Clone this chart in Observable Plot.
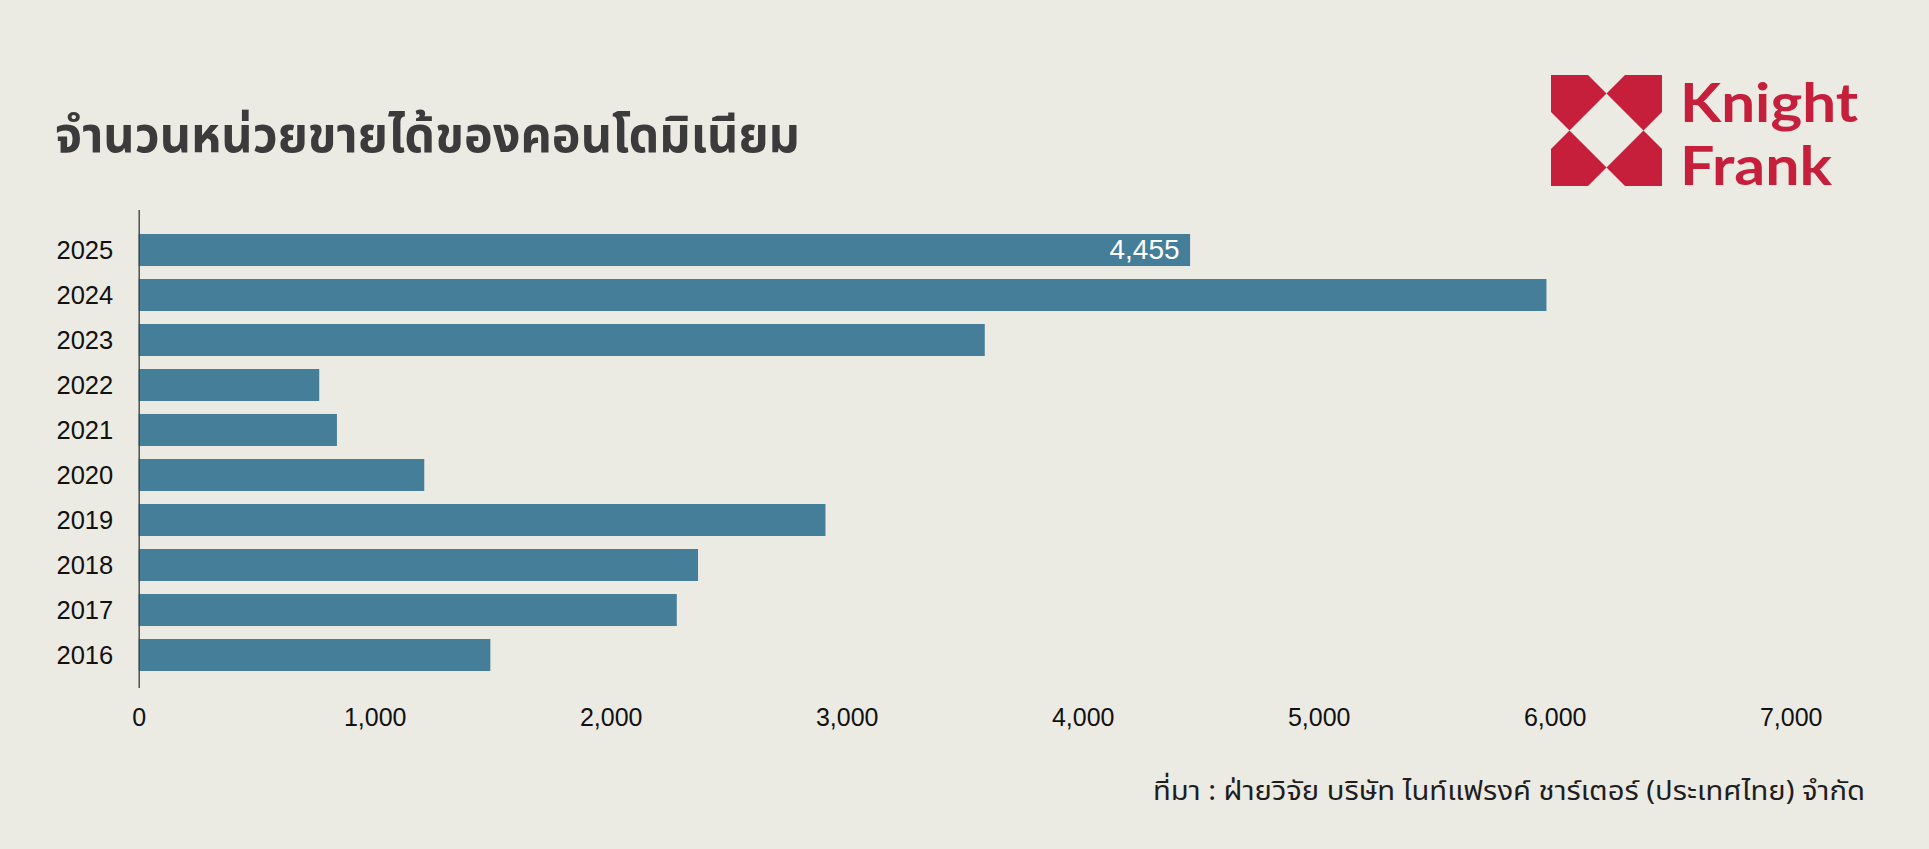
<!DOCTYPE html>
<html><head><meta charset="utf-8">
<script src="https://cdn.jsdelivr.net/npm/d3@7"></script>
<script src="https://cdn.jsdelivr.net/npm/@observablehq/plot@0.6"></script>
<style>
html,body{margin:0;padding:0;background:#ebeae3;}
#wrap{position:relative;width:1929px;height:849px;overflow:hidden;background:#ebeae3;}
#chart{position:absolute;left:0;top:0;}
#deco{position:absolute;left:0;top:0;pointer-events:none;}
</style></head><body>
<div id="wrap"><div id="chart"></div>
<svg id="deco" width="1929" height="849" xmlns="http://www.w3.org/2000/svg"></svg></div>
<script>
// ---- data ----
const years = ["2016","2017","2018","2019","2020","2021","2022","2023","2024","2025"];
const units = [1490, 2280, 2370, 2910, 1210, 840, 765, 3585, 5965, 4455];
const xTicks = [0, 1000, 2000, 3000, 4000, 5000, 6000, 7000];
const labelledYears = ["2025"];
const titleText = "จำนวนหน่วยขายได้ของคอนโดมิเนียม";
const captionText = "ที่มา : ฝ่ายวิจัย บริษัท ไนท์แฟรงค์ ชาร์เตอร์ (ประเทศไทย) จำกัด";
const logoLines = ["Knight", "Frank"];

const table = years.map((y, i) => ({year: y, value: units[i]}));
const yearOrder = years.slice().reverse();
const fmt = d3.format(",");
const BAR = "#457e98";
const thaiFont = "'Noto Sans Thai','Noto Sans Thai UI','Loma','Garuda','Tlwg Typo','Norasi','Noto Sans',sans-serif";

const chart = Plot.plot({
  width: 1929,
  height: 849,
  marginTop: 210,
  marginBottom: 161,
  marginLeft: 138.7,
  marginRight: 1929 - 1790.7,
  style: {background: "transparent", fontFamily: "'Liberation Sans', Arial, sans-serif", fontSize: "25px", color: "#111"},
  x: {domain: [0, 7000], ticks: xTicks, tickFormat: fmt, label: null},
  y: {domain: yearOrder, paddingInner: 0.285, paddingOuter: 0.4325, align: 0.58, label: null},
  marks: [
    Plot.barX(table, {x: "value", y: "year", fill: BAR}),
    Plot.ruleX([0], {stroke: "#444", strokeWidth: 1.4}),
    Plot.axisX({ticks: xTicks, tickFormat: fmt, tickSize: 0, tickPadding: 20, fontSize: 25, fill: "#111", label: null}),
    Plot.axisY({tickSize: 0, tickPadding: 26, fontSize: 25.5, fill: "#111", label: null}),
    Plot.text(table.filter(d => labelledYears.includes(d.year)), {
      x: "value", y: "year", text: d => fmt(d.value), textAnchor: "end", dx: -11,
      fill: "white", fontSize: 28
    })
  ]
});
document.getElementById("chart").appendChild(chart);

// ---- decorations: title, caption, logo ----
const deco = d3.select("#deco");
deco.append("text").attr("x", 55).attr("y", 152)
  .attr("font-family", thaiFont).attr("font-weight", 700).attr("font-size", 50)
  .attr("fill", "#3b3b3b").attr("textLength", 745).attr("lengthAdjust", "spacingAndGlyphs")
  .text(titleText);
deco.append("text").attr("x", 1153).attr("y", 800)
  .attr("font-family", thaiFont).attr("font-size", 27)
  .attr("fill", "#1e1e1e").attr("textLength", 712).attr("lengthAdjust", "spacingAndGlyphs")
  .text(captionText);

const RED = "#c51f3c";
const S = 111, ox = 1551, oy = 75;
const a = S / 3, m = S / 2, h = S / 6;
const tl = [[0,0],[a,0],[m,h],[h,m],[0,a]];
const pieces = [
  tl,
  tl.map(([x,y]) => [S - x, y]),
  tl.map(([x,y]) => [x, S - y]),
  tl.map(([x,y]) => [S - x, S - y])
];
const g = deco.append("g").attr("transform", `translate(${ox},${oy})`);
pieces.forEach(p => g.append("polygon").attr("points", p.map(q => q.join(",")).join(" ")).attr("fill", RED));
deco.append("text").attr("x", 1680).attr("y", 121.7).attr("font-family", "Lato, 'Liberation Sans', sans-serif")
  .attr("font-weight", 700).attr("font-size", 54).attr("fill", RED)
  .attr("textLength", 178).attr("lengthAdjust", "spacingAndGlyphs").text(logoLines[0]);
deco.append("text").attr("x", 1680).attr("y", 185).attr("font-family", "Lato, 'Liberation Sans', sans-serif")
  .attr("font-weight", 700).attr("font-size", 54).attr("fill", RED)
  .attr("textLength", 152).attr("lengthAdjust", "spacingAndGlyphs").text(logoLines[1]);
</script>
</body></html>
